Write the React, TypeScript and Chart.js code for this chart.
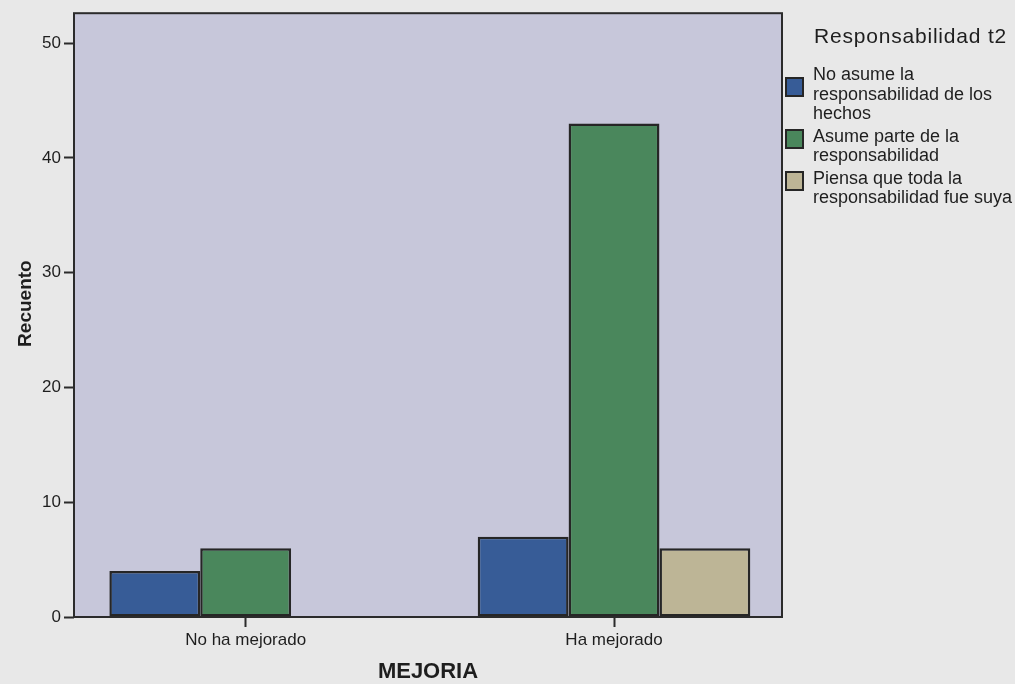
import React, { useEffect, useRef } from "react";
import { Chart, registerables } from "chart.js";

Chart.register(...registerables);

// ---- data ----
const categories = ["No ha mejorado", "Ha mejorado"];
const seriesNames = [
  "No asume la responsabilidad de los hechos",
  "Asume parte de la responsabilidad",
  "Piensa que toda la responsabilidad fue suya",
];
const legendLines = [
  ["No asume la", "responsabilidad de los", "hechos"],
  ["Asume parte de la", "responsabilidad"],
  ["Piensa que toda la", "responsabilidad fue suya"],
];
const noAsume = [4, 7];
const asumeParte = [6, 43];
const todaSuya: (number | null)[] = [null, 6];
const yTickValues = [0, 10, 20, 30, 40, 50];
const yMax = 52.6;
const legendTitle = "Responsabilidad t2";
const xTitle = "MEJORIA";
const yTitle = "Recuento";

// ---- styles ----
const seriesColors = ["#375c97", "#4a875c", "#bdb596"];
const barBorder = "#262626";
const plotBg = "#c7c7da";
const pageBg = "#e8e8e8";
const textColor = "#1e1e1e";
const FONT = '"Liberation Sans", Arial, sans-serif';

const framePlugin = {
  id: "frameAndTitles",
  beforeDraw(chart: any) {
    const { ctx, chartArea: a } = chart;
    ctx.save();
    ctx.fillStyle = plotBg;
    ctx.fillRect(a.left, a.top, a.right - a.left, a.bottom - a.top);
    ctx.restore();
  },
  afterDraw(chart: any) {
    const { ctx, chartArea: a } = chart;
    ctx.save();
    ctx.strokeStyle = "#2b2b2b";
    ctx.lineWidth = 2;
    ctx.strokeRect(a.left, a.top, a.right - a.left, a.bottom - a.top);
    ctx.fillStyle = textColor;
    ctx.textAlign = "center";
    ctx.textBaseline = "middle";
    ctx.font = `bold 22px ${FONT}`;
    ctx.fillText(xTitle, (a.left + a.right) / 2, a.bottom + 55);
    ctx.translate(26, (a.top + a.bottom) / 2 - 11.5);
    ctx.rotate(-Math.PI / 2);
    ctx.font = `bold 19px ${FONT}`;
    ctx.fillText(yTitle, 0, 0);
    ctx.restore();
  },
};

export default function App() {
  const ref = useRef<HTMLCanvasElement | null>(null);

  useEffect(() => {
    if (!ref.current) return;
    const series = [noAsume, asumeParte, todaSuya];
    const chart = new Chart(ref.current, {
      type: "bar",
      data: {
        datasets: series.map((vals, si) => ({
          label: seriesNames[si],
          data: categories.map((_, ci) => ({ x: ci, y: vals[ci] as any })),
          backgroundColor: seriesColors[si],
          borderColor: barBorder,
          borderWidth: 2.5,
          borderSkipped: false,
          categoryPercentage: 0.74,
          barPercentage: 1,
        })) as any,
      },
      options: {
        animation: false,
        responsive: false,
        layout: { padding: { top: 13, right: 233, left: 0, bottom: 0 } },
        plugins: { legend: { display: false }, tooltip: { enabled: false } },
        scales: {
          x: {
            type: "linear",
            min: -0.466,
            max: 1.456,
            offset: false,
            afterBuildTicks(scale: any) {
              scale.ticks = categories.map((_, i) => ({ value: i }));
            },
            afterFit(scale: any) {
              scale.height = 67;
            },
            border: { display: false },
            grid: {
              offset: false,
              drawOnChartArea: false,
              drawTicks: true,
              tickLength: 10,
              tickColor: "#2b2b2b",
              tickWidth: 2,
            },
            ticks: {
              autoSkip: false,
              maxRotation: 0,
              padding: 3,
              color: textColor,
              font: { family: FONT, size: 17 },
              callback: (v: any) => categories[Math.round(Number(v))] ?? "",
            },
          },
          y: {
            type: "linear",
            min: 0,
            max: yMax,
            afterBuildTicks(scale: any) {
              scale.ticks = yTickValues.map((v) => ({ value: v }));
            },
            afterFit(scale: any) {
              scale.width = 74;
            },
            border: { display: false },
            grid: {
              drawOnChartArea: false,
              drawTicks: true,
              tickLength: 10,
              tickColor: "#2b2b2b",
              tickWidth: 2,
            },
            ticks: {
              padding: 3,
              color: textColor,
              font: { family: FONT, size: 17 },
            },
          },
        },
      },
      plugins: [framePlugin],
    });
    return () => chart.destroy();
  }, []);

  return (
    <div
      style={{
        position: "absolute",
        left: 0,
        top: 0,
        width: 1015,
        height: 684,
        background: pageBg,
        overflow: "hidden",
      }}
    >
      <canvas ref={ref} width={1015} height={684} style={{ display: "block" }} />
      <div
        style={{
          position: "absolute",
          left: 814,
          top: 23,
          font: `21px ${FONT}`,
          lineHeight: "25px",
          letterSpacing: "0.8px",
          color: textColor,
          whiteSpace: "nowrap",
        }}
      >
        {legendTitle}
      </div>
      <div style={{ position: "absolute", left: 785, top: 65 }}>
        {legendLines.map((lines, i) => (
          <div
            key={i}
            style={{ display: "flex", alignItems: "center", marginBottom: 3 }}
          >
            <div
              style={{
                width: 19,
                height: 20,
                boxSizing: "border-box",
                background: seriesColors[i],
                border: `2px solid ${barBorder}`,
                transform: "translateY(-7px)",
                marginRight: 9,
                flex: "0 0 auto",
              }}
            />
            <div
              style={{
                font: `18px ${FONT}`,
                lineHeight: "19.5px",
                color: textColor,
                whiteSpace: "nowrap",
              }}
            >
              {lines.map((l, j) => (
                <div key={j}>{l}</div>
              ))}
            </div>
          </div>
        ))}
      </div>
    </div>
  );
}
